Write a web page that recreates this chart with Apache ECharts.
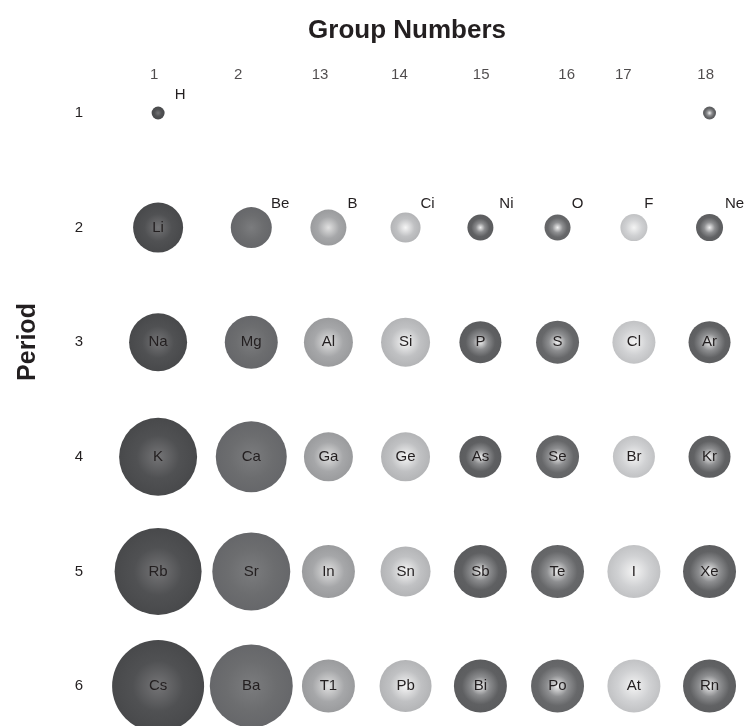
<!DOCTYPE html>
<html>
<head>
<meta charset="utf-8">
<script src="https://cdn.jsdelivr.net/npm/echarts@6/dist/echarts.min.js"></script>
<style>html,body{margin:0;padding:0;background:#fff;}#c{width:744px;height:726px;}</style>
</head>
<body>
<div id="c"></div>
<script>
// ---- data ----
const groupLabels = ['1', '2', '13', '14', '15', '16', '17', '18'];
const groupLabelX = [0.75, 1.85, 2.92, 3.96, 5.03, 6.15, 6.89, 7.97];
const groupColumnX = [0.8, 2.02, 3.03, 4.04, 5.02, 6.03, 7.03, 8.02];
const periods = [1, 2, 3, 4, 5, 6];
const period1 = ['H', null, null, null, null, null, null, ''];
const period2 = ['Li', 'Be', 'B', 'Ci', 'Ni', 'O', 'F', 'Ne'];
const period3 = ['Na', 'Mg', 'Al', 'Si', 'P', 'S', 'Cl', 'Ar'];
const period4 = ['K', 'Ca', 'Ga', 'Ge', 'As', 'Se', 'Br', 'Kr'];
const period5 = ['Rb', 'Sr', 'In', 'Sn', 'Sb', 'Te', 'I', 'Xe'];
const period6 = ['Cs', 'Ba', 'T1', 'Pb', 'Bi', 'Po', 'At', 'Rn'];
const size1 = [13, null, null, null, null, null, null, 13];
const size2 = [50, 41, 36, 30, 26, 26, 27, 27];
const size3 = [58, 53, 49, 49, 42, 43, 43, 42];
const size4 = [78, 71, 49, 49, 42, 43, 42, 42];
const size5 = [87, 78, 53, 50, 53, 53, 53, 53];
const size6 = [92, 83, 53, 52, 53, 53, 53, 53];
const elementRows = [period1, period2, period3, period4, period5, period6];
const sizeRows = [size1, size2, size3, size4, size5, size6];

// ---- styling ----
const FONT = '"Liberation Sans", Arial, sans-serif';
const TXT = '#231f20';
const groupStops = [
  [['#747476', 0], ['#505153', 0.55], ['#48494b', 1]],
  [['#7b7c7e', 0], ['#6c6d6f', 0.6], ['#66676a', 1]],
  [['#e0e0e0', 0], ['#a6a7a9', 0.6], ['#9a9b9d', 1]],
  [['#f6f6f6', 0], ['#c0c1c3', 0.6], ['#b3b4b6', 1]],
  [['#efefef', 0], ['#8b8c8e', 0.35], ['#5f6062', 0.7], ['#5b5c5e', 1]],
  [['#f0f0f0', 0], ['#8e8f91', 0.4], ['#67686a', 0.75], ['#636466', 1]],
  [['#f4f4f4', 0], ['#d0d1d3', 0.6], ['#c1c2c4', 1]],
  [['#f0f0f0', 0], ['#8d8e90', 0.4], ['#616264', 0.75], ['#5d5e60', 1]]
];
const outsideOffset = {
  'H': [22, -18], 'Be': [29, -24], 'B': [24, -24], 'Ci': [22, -24],
  'Ni': [26, -24], 'O': [20, -24], 'F': [15, -24], 'Ne': [25, -24]
};

function radial(stops) {
  return {
    type: 'radial', x: 0.5, y: 0.5, r: 0.5,
    colorStops: stops.map(s => ({ color: s[0], offset: s[1] }))
  };
}

const series = groupLabels.map((g, gi) => {
  const data = [];
  periods.forEach((p, pi) => {
    const name = elementRows[pi][gi];
    const size = sizeRows[pi][gi];
    if (name === null || size === null) return;
    const item = { value: [groupColumnX[gi], p, size], name: name };
    if (outsideOffset[name]) {
      item.label = { offset: outsideOffset[name] };
    }
    data.push(item);
  });
  return {
    type: 'scatter',
    name: g,
    data: data,
    symbol: 'circle',
    symbolSize: v => v[2],
    itemStyle: { color: radial(groupStops[gi]), opacity: 1 },
    label: {
      show: true, position: 'inside', formatter: d => d.name,
      fontFamily: FONT, fontSize: 15, color: TXT
    },
    emphasis: { disabled: true },
    clip: false,
    silent: true
  };
});

series.push({
  type: 'scatter',
  data: groupLabels.map((g, i) => ({ value: [groupLabelX[i], 0.671], name: g })),
  symbolSize: 0,
  label: {
    show: true, position: 'inside', formatter: d => d.name,
    fontFamily: FONT, fontSize: 15, color: TXT
  },
  clip: false,
  silent: true
});

const chart = echarts.init(document.getElementById('c'), null, { renderer: 'canvas' });
chart.setOption({
  animation: false,
  backgroundColor: '#fff',
  title: {
    text: 'Group Numbers', left: 402, top: 13, textAlign: 'center',
    textStyle: { fontFamily: FONT, fontWeight: 'bold', fontSize: 26, color: TXT }
  },
  graphic: [{
    type: 'text', x: 28, y: 342, rotation: Math.PI / 2,
    style: {
      text: 'Period', textAlign: 'center', textVerticalAlign: 'middle',
      font: 'bold 25px ' + FONT, fill: TXT
    }
  }],
  grid: { left: 97, right: 36, top: 113, bottom: 40 },
  xAxis: { type: 'value', min: 0, max: 8, show: false },
  yAxis: {
    type: 'value', min: 1, max: 6, interval: 1, inverse: true,
    axisLine: { show: false }, axisTick: { show: false }, splitLine: { show: false },
    axisLabel: { align: 'center', margin: 18, fontSize: 15, color: TXT, fontFamily: FONT }
  },
  series: series
});
</script>
</body>
</html>
